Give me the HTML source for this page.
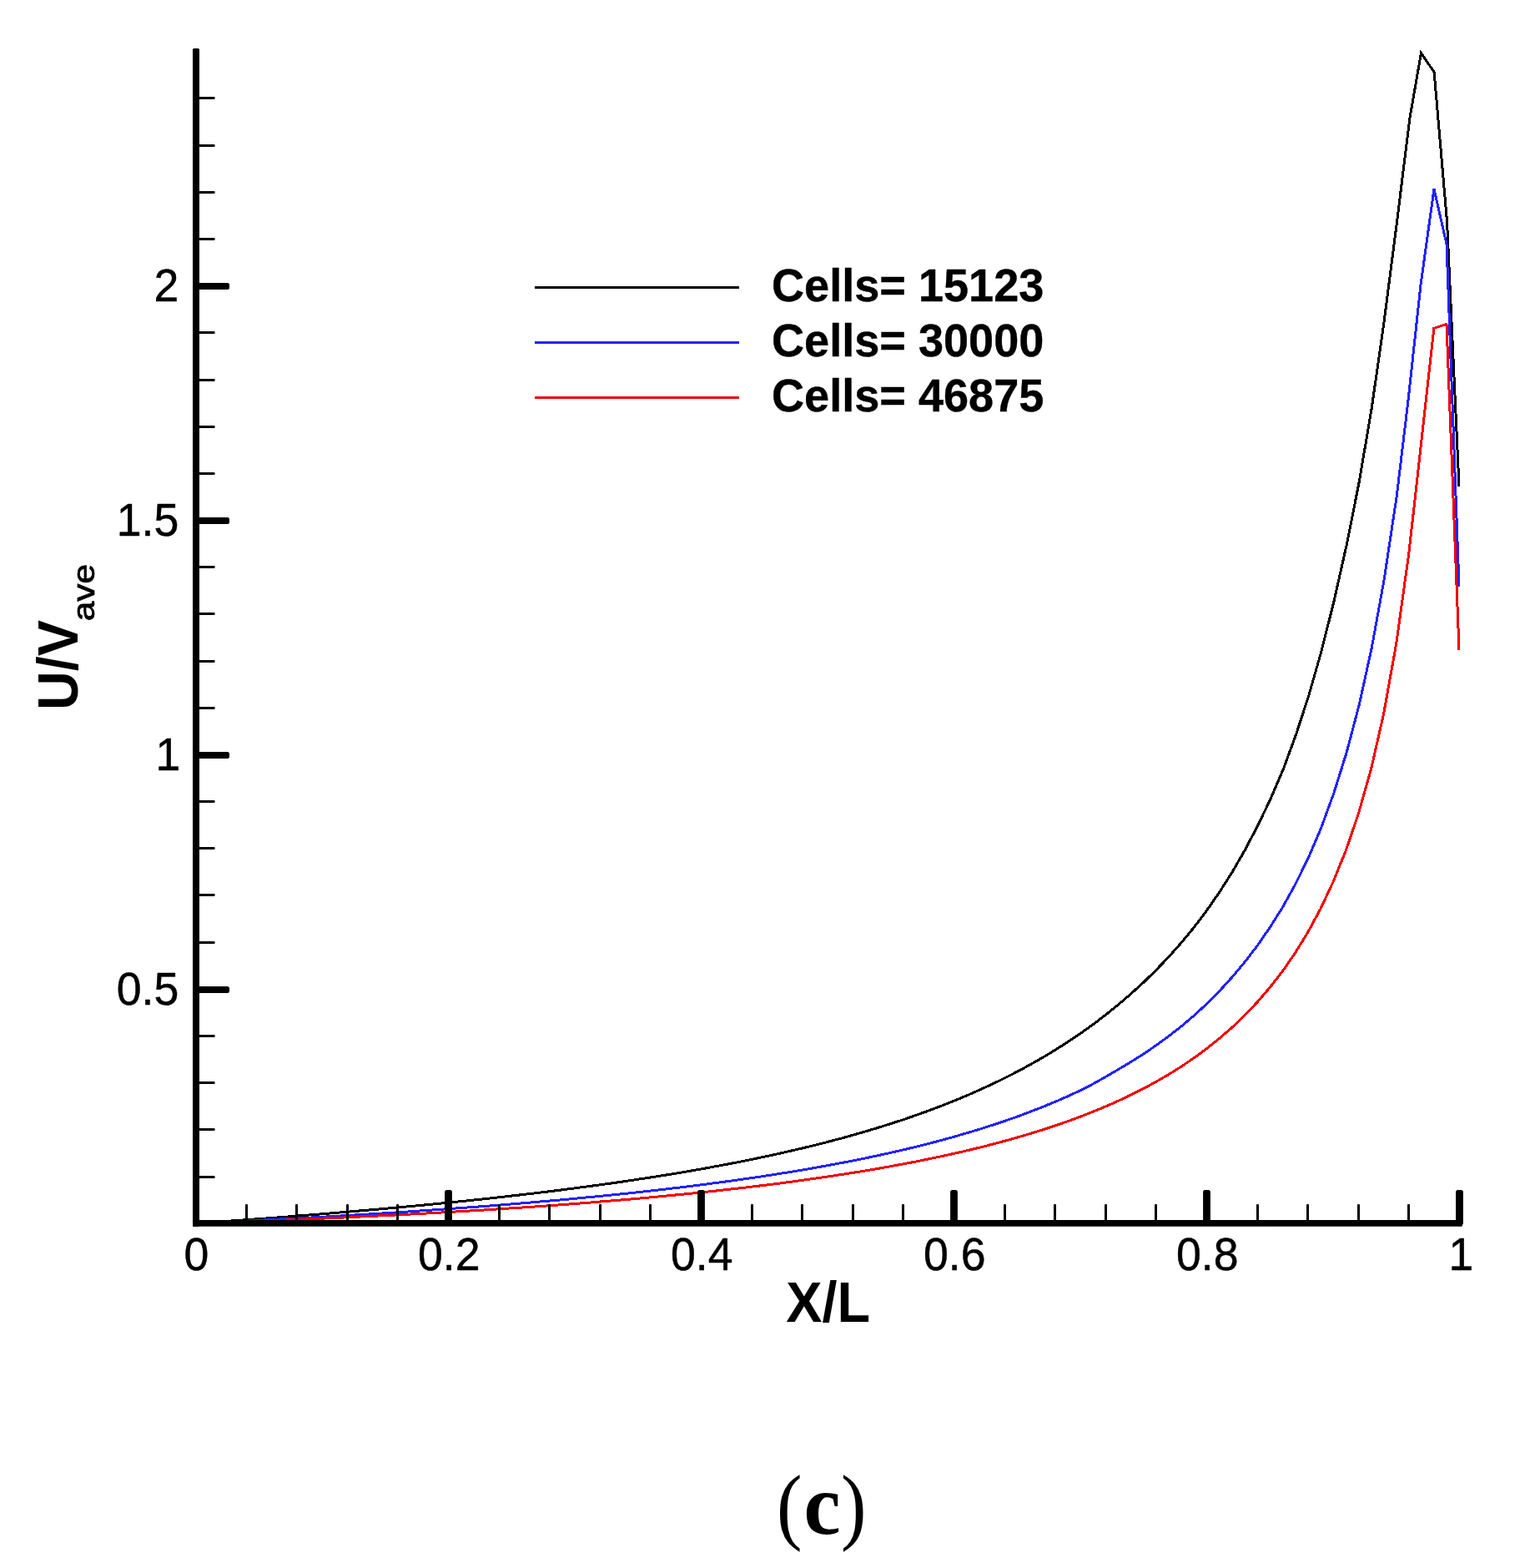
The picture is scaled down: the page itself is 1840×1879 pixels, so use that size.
<!DOCTYPE html>
<html lang="en">
<head>
<meta charset="utf-8">
<title>U/Vave versus X/L - grid independence (c)</title>
<style>
html,body{margin:0;padding:0;background:#fff;}
body{width:1840px;height:1879px;overflow:hidden;}
svg{display:block;}
</style>
</head>
<body>
<svg width="1840" height="1879" viewBox="0 0 1840 1879" role="img" aria-label="U/Vave versus X/L for three mesh sizes">
<rect width="1840" height="1879" fill="#fff"/>
<g fill="none" stroke-width="3" stroke-linejoin="miter" stroke-linecap="butt" shape-rendering="crispEdges">
<path d="M265.3,1463.9 L280.4,1462.8 L295.6,1461.7 L310.7,1460.6 L325.9,1459.5 L341.0,1458.3 L356.2,1457.1 L371.3,1455.9 L386.5,1454.7 L401.6,1453.5 L416.7,1452.2 L431.9,1450.9 L447.0,1449.6 L462.2,1448.3 L477.3,1446.9 L492.5,1445.5 L507.6,1444.1 L522.8,1442.6 L537.9,1441.1 L553.0,1439.6 L568.2,1438.0 L583.3,1436.4 L598.5,1434.7 L613.6,1433.0 L628.8,1431.3 L643.9,1429.5 L659.1,1427.7 L674.2,1425.8 L689.3,1423.8 L704.5,1421.8 L719.6,1419.8 L734.8,1417.7 L749.9,1415.5 L765.1,1413.2 L780.2,1410.9 L795.4,1408.5 L810.5,1406.1 L825.7,1403.5 L840.8,1400.9 L855.9,1398.1 L871.1,1395.3 L886.2,1392.3 L901.4,1389.3 L916.5,1386.1 L931.7,1382.9 L946.8,1379.4 L962.0,1375.9 L977.1,1372.2 L992.2,1368.4 L1007.4,1364.4 L1022.5,1360.2 L1037.7,1355.8 L1052.8,1351.3 L1068.0,1346.5 L1083.1,1341.6 L1098.3,1336.3 L1113.4,1330.9 L1128.6,1325.2 L1143.7,1319.2 L1158.8,1312.9 L1174.0,1306.2 L1189.1,1299.3 L1204.3,1291.9 L1219.4,1284.2 L1234.6,1276.0 L1249.7,1267.4 L1264.9,1258.2 L1280.0,1248.6 L1295.2,1238.4 L1310.3,1227.6 L1325.4,1216.1 L1340.6,1203.9 L1355.7,1190.9 L1370.9,1177.1 L1386.0,1162.3 L1401.2,1146.4 L1416.3,1129.4 L1431.5,1111.0 L1446.6,1091.0 L1461.7,1069.2 L1476.9,1045.4 L1492.0,1019.2 L1507.3,990.1 L1522.9,957.7 L1538.5,921.2 L1553.6,880.1 L1568.8,833.5 L1583.9,780.6 L1599.0,720.5 L1614.1,653.4 L1629.0,578.7 L1644.0,490.6 L1659.0,386.1 L1674.5,266.0 L1689.9,141.6 L1703.5,63.5 L1719.1,86.5 L1734.5,265.0 L1749.0,582.7" stroke="#000"/>
<path d="M280.4,1463.8 L295.6,1463.1 L310.7,1462.3 L325.9,1461.5 L341.0,1460.7 L356.2,1459.9 L371.3,1459.1 L386.5,1458.3 L401.6,1457.4 L416.7,1456.5 L431.9,1455.6 L447.0,1454.7 L462.2,1453.7 L477.3,1452.8 L492.5,1451.8 L507.6,1450.7 L522.8,1449.7 L537.9,1448.6 L553.0,1447.5 L568.2,1446.4 L583.3,1445.3 L598.5,1444.1 L613.6,1442.9 L628.8,1441.6 L643.9,1440.3 L659.1,1439.0 L674.2,1437.7 L689.3,1436.3 L704.5,1434.8 L719.6,1433.4 L734.8,1431.8 L749.9,1430.3 L765.1,1428.7 L780.2,1427.0 L795.4,1425.3 L810.5,1423.5 L825.7,1421.7 L840.8,1419.8 L855.9,1417.8 L871.1,1415.8 L886.2,1413.7 L901.4,1411.5 L916.5,1409.3 L931.7,1406.9 L946.8,1404.5 L962.0,1402.0 L977.1,1399.4 L992.2,1396.6 L1007.4,1393.8 L1022.5,1390.9 L1037.7,1387.8 L1052.8,1384.6 L1068.0,1381.3 L1083.1,1377.8 L1098.3,1374.2 L1113.4,1370.4 L1128.6,1366.4 L1143.7,1362.2 L1158.8,1357.8 L1174.0,1353.3 L1189.1,1348.4 L1204.3,1343.4 L1219.4,1338.1 L1234.6,1332.4 L1249.7,1326.5 L1264.9,1320.3 L1280.0,1313.7 L1295.2,1306.7 L1310.3,1298.9 L1325.4,1290.4 L1340.6,1281.5 L1355.7,1272.5 L1370.9,1262.9 L1386.0,1252.6 L1401.2,1241.5 L1416.3,1229.7 L1431.5,1216.8 L1446.6,1202.9 L1461.7,1187.7 L1476.9,1171.0 L1492.0,1153.0 L1507.2,1133.2 L1522.3,1111.3 L1537.5,1087.2 L1552.6,1059.9 L1567.7,1029.3 L1583.3,992.9 L1598.8,950.6 L1614.2,901.6 L1629.2,844.8 L1644.2,776.6 L1659.2,694.2 L1674.2,594.9 L1688.4,476.3 L1703.0,341.4 L1719.0,226.5 L1734.0,292.5 L1749.0,703.0" stroke="#2222ff"/>
<path d="M295.6,1463.8 L310.7,1463.3 L325.9,1462.7 L341.0,1462.1 L356.2,1461.4 L371.3,1460.8 L386.5,1460.1 L401.6,1459.5 L416.7,1458.8 L431.9,1458.0 L447.0,1457.3 L462.2,1456.6 L477.3,1455.8 L492.5,1455.0 L507.6,1454.2 L522.8,1453.4 L537.9,1452.5 L553.0,1451.6 L568.2,1450.7 L583.3,1449.8 L598.5,1448.8 L613.6,1447.8 L628.8,1446.8 L643.9,1445.8 L659.1,1444.7 L674.2,1443.6 L689.3,1442.4 L704.5,1441.3 L719.6,1440.0 L734.8,1438.8 L749.9,1437.5 L765.1,1436.2 L780.2,1434.8 L795.4,1433.4 L810.5,1431.9 L825.7,1430.4 L840.8,1428.9 L855.9,1427.3 L871.1,1425.6 L886.2,1423.9 L901.4,1422.1 L916.5,1420.3 L931.7,1418.4 L946.8,1416.4 L962.0,1414.3 L977.1,1412.2 L992.2,1410.0 L1007.4,1407.7 L1022.5,1405.3 L1037.7,1402.9 L1052.8,1400.3 L1068.0,1397.6 L1083.1,1394.8 L1098.3,1391.9 L1113.4,1388.8 L1128.6,1385.7 L1143.7,1382.3 L1158.8,1378.9 L1174.0,1375.2 L1189.1,1371.4 L1204.3,1367.3 L1219.4,1363.1 L1234.6,1358.6 L1249.7,1353.9 L1264.9,1348.9 L1280.0,1343.7 L1295.2,1338.1 L1310.3,1332.2 L1325.4,1325.9 L1340.6,1319.2 L1355.7,1312.0 L1370.9,1304.4 L1386.0,1296.2 L1401.2,1287.4 L1416.3,1277.9 L1431.5,1267.6 L1446.6,1256.5 L1461.7,1244.4 L1476.9,1231.2 L1492.0,1216.7 L1507.2,1200.8 L1522.3,1183.2 L1537.5,1163.7 L1552.6,1141.8 L1567.8,1117.1 L1582.9,1089.1 L1598.0,1056.9 L1613.2,1019.5 L1628.3,975.3 L1643.5,921.9 L1658.6,855.4 L1673.8,770.9 L1688.9,662.3 L1704.1,526.5 L1718.9,393.3 L1734.0,388.5 L1749.0,778.6" stroke="#f00000"/>
</g>
<g fill="#000">
<rect x="294.0" y="1443" width="3" height="23" rx="1"/>
<rect x="354.0" y="1443" width="3" height="23" rx="1"/>
<rect x="415.0" y="1443" width="3" height="23" rx="1"/>
<rect x="475.0" y="1443" width="3" height="23" rx="1"/>
<rect x="597.0" y="1443" width="3" height="23" rx="1"/>
<rect x="657.0" y="1443" width="3" height="23" rx="1"/>
<rect x="718.0" y="1443" width="3" height="23" rx="1"/>
<rect x="778.0" y="1443" width="3" height="23" rx="1"/>
<rect x="900.0" y="1443" width="3" height="23" rx="1"/>
<rect x="960.0" y="1443" width="3" height="23" rx="1"/>
<rect x="1021.0" y="1443" width="3" height="23" rx="1"/>
<rect x="1081.0" y="1443" width="3" height="23" rx="1"/>
<rect x="1203.0" y="1443" width="3" height="23" rx="1"/>
<rect x="1263.0" y="1443" width="3" height="23" rx="1"/>
<rect x="1324.0" y="1443" width="3" height="23" rx="1"/>
<rect x="1384.0" y="1443" width="3" height="23" rx="1"/>
<rect x="1506.0" y="1443" width="3" height="23" rx="1"/>
<rect x="1566.0" y="1443" width="3" height="23" rx="1"/>
<rect x="1627.0" y="1443" width="3" height="23" rx="1"/>
<rect x="1687.0" y="1443" width="3" height="23" rx="1"/>
<rect x="235" y="1409.0" width="22.600000000000023" height="3" rx="1"/>
<rect x="235" y="1352.0" width="22.600000000000023" height="3" rx="1"/>
<rect x="235" y="1296.0" width="22.600000000000023" height="3" rx="1"/>
<rect x="235" y="1240.0" width="22.600000000000023" height="3" rx="1"/>
<rect x="235" y="1128.0" width="22.600000000000023" height="3" rx="1"/>
<rect x="235" y="1071.0" width="22.600000000000023" height="3" rx="1"/>
<rect x="235" y="1015.0" width="22.600000000000023" height="3" rx="1"/>
<rect x="235" y="959.0" width="22.600000000000023" height="3" rx="1"/>
<rect x="235" y="847.0" width="22.600000000000023" height="3" rx="1"/>
<rect x="235" y="791.0" width="22.600000000000023" height="3" rx="1"/>
<rect x="235" y="734.0" width="22.600000000000023" height="3" rx="1"/>
<rect x="235" y="678.0" width="22.600000000000023" height="3" rx="1"/>
<rect x="235" y="566.0" width="22.600000000000023" height="3" rx="1"/>
<rect x="235" y="510.0" width="22.600000000000023" height="3" rx="1"/>
<rect x="235" y="454.0" width="22.600000000000023" height="3" rx="1"/>
<rect x="235" y="397.0" width="22.600000000000023" height="3" rx="1"/>
<rect x="235" y="285.0" width="22.600000000000023" height="3" rx="1"/>
<rect x="235" y="229.0" width="22.600000000000023" height="3" rx="1"/>
<rect x="235" y="173.0" width="22.600000000000023" height="3" rx="1"/>
<rect x="235" y="116.0" width="22.600000000000023" height="3" rx="1"/>
<rect x="533.1" y="1426" width="8.8" height="42" rx="2.5"/>
<rect x="836.1" y="1426" width="8.8" height="42" rx="2.5"/>
<rect x="1139.1" y="1426" width="8.8" height="42" rx="2.5"/>
<rect x="1442.1" y="1426" width="8.8" height="42" rx="2.5"/>
<rect x="1745.1" y="1426" width="8.8" height="42" rx="2.5"/>
<rect x="233" y="1182.0" width="42" height="8" rx="2.5"/>
<rect x="233" y="901.0" width="42" height="8" rx="2.5"/>
<rect x="233" y="620.0" width="42" height="8" rx="2.5"/>
<rect x="233" y="339.0" width="42" height="8" rx="2.5"/>
<rect x="231" y="58" width="8" height="1412" rx="1.5"/>
<rect x="231" y="1462" width="1522" height="7.8" rx="1.5"/>
</g>
<g stroke-width="3" fill="none">
<path d="M641,344.5H886" stroke="#000"/>
<path d="M641,410.5H886" stroke="#2222ff"/>
<path d="M641,476.5H886" stroke="#f00000"/>
</g>
<g font-family="'Liberation Sans', Arial, Helvetica, sans-serif" fill="#000">
<g font-weight="700" font-size="56" stroke="#000" stroke-width="0.4" stroke-linejoin="round">
<text transform="translate(925,361) scale(0.966,1)">Cells= 15123</text>
<text transform="translate(925,427) scale(0.966,1)">Cells= 30000</text>
<text transform="translate(925,493) scale(0.966,1)">Cells= 46875</text>
</g>
<g font-size="55.3" text-anchor="middle" stroke="#000" stroke-width="0.5" stroke-linejoin="round">
<text transform="translate(235.3,1521.6) scale(0.97,1)">0</text>
<text transform="translate(538.3,1521.6) scale(0.97,1)">0.2</text>
<text transform="translate(841.3,1521.6) scale(0.97,1)">0.4</text>
<text transform="translate(1144.3,1521.6) scale(0.97,1)">0.6</text>
<text transform="translate(1447.3,1521.6) scale(0.97,1)">0.8</text>
<text transform="translate(1751.5,1521.6) scale(0.97,1)">1</text>
</g>
<g font-size="55.3" text-anchor="end" stroke="#000" stroke-width="0.5" stroke-linejoin="round">
<text transform="translate(214.3,1203.8) scale(0.97,1)">0.5</text>
<text transform="translate(216.3,922.8) scale(0.97,1)">1</text>
<text transform="translate(214.3,641.8) scale(0.97,1)">1.5</text>
<text transform="translate(214.3,360.8) scale(0.97,1)">2</text>
</g>
<text transform="translate(992.6,1584) scale(0.946,1)" font-size="68.5" font-weight="700" text-anchor="middle">X/L</text>
<text transform="translate(93,851) rotate(-90) scale(0.946,1)" font-size="68.5" font-weight="700">U/V</text>
<text transform="translate(112.5,744.3) rotate(-90) scale(1.14,1)" font-size="37.3" font-weight="400" stroke="#000" stroke-width="0.8" stroke-linejoin="round">ave</text>
</g>
<text x="931.0" y="1838.0" font-family="'Liberation Serif', 'Times New Roman', serif" font-size="102.2" fill="#000"><tspan font-weight="400" textLength="30.5" lengthAdjust="spacingAndGlyphs">(</tspan><tspan font-weight="700" font-size="103" dx="2.0" textLength="44.1" lengthAdjust="spacingAndGlyphs">c</tspan><tspan font-weight="400" dx="0.4" textLength="30.5" lengthAdjust="spacingAndGlyphs">)</tspan></text>
</svg>
</body>
</html>
